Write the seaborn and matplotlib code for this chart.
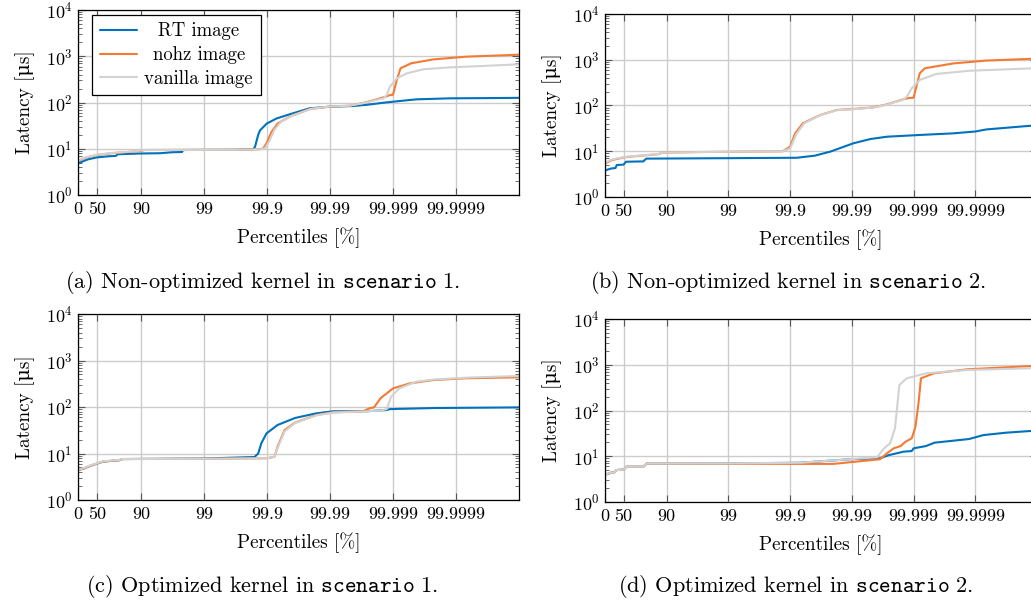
import numpy as np
import pandas as pd
import matplotlib
matplotlib.use("Agg")
import matplotlib.pyplot as plt
import matplotlib.ticker as mticker
import seaborn as sns

# series names and colours
labels = ["RT image", "nohz image", "vanilla image"]
colors = ["#0072BD", "#F47A33", "#D2D2D2"]

pct_ticks = [0, 50, 90, 99, 99.9, 99.99, 99.999, 99.9999]
pct_tick_labels = ["0", "50", "90", "99", "99.9", "99.99", "99.999", "99.9999"]

# (a) Non-optimized kernel, scenario 1
a_rt_pct = [0, 20.6, 30.8, 49.9, 68.4, 74.9, 76.6, 90, 95.0, 96.8, 97.76, 97.86, 99.68, 99.834, 99.845,
            99.862, 99.871, 99.899, 99.929, 99.957, 99.979, 99.99, 99.9957, 99.99737, 99.99859, 99.999,
            99.999573, 99.999874, 99.99999]
a_rt_lat = [4.8, 5.5, 5.9, 6.5, 6.9, 7.0, 7.6, 7.9, 8.0, 8.4, 8.5, 9.4, 9.5, 9.8, 11,
            20, 25, 35, 45, 56, 75, 81, 84, 89, 99, 104, 117, 123, 126]
a_nohz_pct = [0, 20.6, 49.9, 70.5, 87.4, 90, 91.3, 99.68, 99.874, 99.885, 99.898, 99.915, 99.932, 99.957,
              99.979, 99.99, 99.995, 99.99705, 99.99818, 99.99868, 99.99888, 99.999, 99.999129, 99.999241,
              99.999487, 99.999771, 99.999932, 99.99999]
a_nohz_lat = [5.4, 6.3, 7.3, 8.0, 8.7, 9.0, 9.4, 9.5, 9.8, 10.2, 13, 23, 35, 50,
              72, 82, 85, 98, 117, 133, 145, 147, 307, 550, 705, 855, 980, 1080]
a_van_pct = [0, 20.6, 49.9, 70.5, 87.4, 90, 91.3, 99.68, 99.874, 99.893, 99.909, 99.924, 99.940, 99.960,
             99.98, 99.99, 99.995, 99.99705, 99.99818, 99.99859, 99.99874, 99.99888, 99.999129, 99.999397,
             99.999669, 99.999874, 99.999963, 99.99999]
a_van_lat = [5.6, 6.4, 7.4, 8.1, 8.8, 9.2, 9.4, 9.5, 9.7, 10.3, 15, 26, 38, 52,
             73, 82, 85, 97, 114, 123, 145, 219, 333, 427, 523, 575, 617, 670]

# (b) Non-optimized kernel, scenario 2
b_rt_pct = [0, 20.6, 32.4, 35.4, 49.9, 54.3, 76.0, 78.6, 96.8, 99.921, 99.960, 99.9776, 99.9905, 99.995,
            99.9973, 99.999206, 99.999771, 99.9999, 99.999934, 99.999987, 99.99999]
b_rt_lat = [3.8, 4.2, 4.3, 5.0, 5.1, 5.9, 6.0, 6.9, 7.0, 7.2, 8.0, 9.8, 14.9, 18.5,
            20.8, 22.7, 24.6, 27, 30, 36, 36.5]
b_nohz_pct = [0, 22.4, 52.1, 71.2, 86.2, 88.0, 96.8, 99.868, 99.9, 99.917, 99.938, 99.9676, 99.9826,
              99.9907, 99.9955, 99.9973, 99.99855, 99.9988, 99.999, 99.999206, 99.999339, 99.999771,
              99.999934, 99.99999]
b_nohz_lat = [5.4, 6.4, 7.4, 7.9, 8.6, 9.3, 9.6, 10, 12.6, 24.6, 41, 62, 80,
              84, 91, 106, 137, 146, 148, 505, 650, 830, 960, 1060]
b_van_pct = [0, 22.4, 52.1, 71.2, 86.2, 88.0, 96.8, 99.868, 99.9, 99.921, 99.941, 99.968, 99.9826,
             99.9907, 99.9955, 99.9973, 99.99855, 99.99871, 99.99893, 99.999206, 99.999573, 99.999877,
             99.99999]
b_van_lat = [5.6, 6.6, 7.5, 8.0, 8.7, 9.3, 9.6, 10, 11.5, 24, 41, 62, 79,
             83, 90, 104, 135, 155, 237, 363, 490, 575, 655]

# (c) Optimized kernel, scenario 1
c_rt_pct = [0, 20.6, 35.4, 52.1, 60.2, 78.1, 80.5, 99.0, 99.842, 99.862, 99.877, 99.898, 99.932, 99.964,
            99.9834, 99.9911, 99.99737, 99.99874, 99.99888, 99.999771, 99.99999]
c_rt_lat = [4.4, 4.8, 5.4, 6.2, 6.7, 7.2, 7.6, 7.8, 8.4, 10, 16.6, 27, 41, 58,
            73, 81, 81, 86, 90, 95, 98]
c_nohz_pct = [0, 20.6, 35.4, 52.1, 60.2, 78.1, 80.5, 99.0, 99.9, 99.924, 99.932, 99.9475, 99.964, 99.9834,
              99.9911, 99.9970, 99.99766, 99.998, 99.99842, 99.999, 99.999463, 99.999771, 99.999932,
              99.99999]
c_nohz_lat = [4.4, 4.8, 5.4, 6.2, 6.7, 7.2, 7.6, 7.7, 7.9, 8.5, 14, 32, 46, 67,
              77, 81, 94, 98, 154, 251, 323, 380, 415, 435]
c_van_pct = [0, 20.6, 35.4, 52.1, 60.2, 78.1, 80.5, 99.0, 99.9, 99.924, 99.932, 99.9475, 99.964, 99.9834,
             99.9911, 99.9970, 99.99842, 99.99874, 99.99893, 99.999206, 99.999573, 99.999771, 99.999937,
             99.99999]
c_van_lat = [4.5, 4.9, 5.5, 6.3, 6.8, 7.3, 7.6, 7.7, 7.9, 8.5, 13, 30, 45, 66,
             76, 80, 84, 90, 167, 251, 350, 389, 430, 465]

# (d) Optimized kernel, scenario 2
d_rt_pct = [0, 20.6, 27.6, 35.4, 49.9, 55.3, 76.0, 79.1, 99.0, 99.931, 99.9893, 99.9965, 99.99749,
            99.99855, 99.99893, 99.999, 99.999369, 99.999543, 99.999874, 99.999926, 99.999968, 99.999987,
            99.99999]
d_rt_lat = [3.9, 4.4, 4.4, 5.0, 5.1, 5.9, 5.9, 7.0, 7.0, 7.2, 8.6, 9.0, 10.6,
            12.6, 13, 14.9, 16.7, 19.8, 23.8, 29, 32.7, 35.6, 36]
d_nohz_pct = [0, 20.6, 27.6, 35.4, 49.9, 55.3, 76.0, 79.1, 99.0, 99.931, 99.98, 99.9965, 99.9973, 99.9979,
              99.99838, 99.99865, 99.99893, 99.999067, 99.999168, 99.999241, 99.999532, 99.999865, 99.99999]
d_nohz_lat = [3.9, 4.4, 4.4, 5.0, 5.1, 5.9, 5.9, 7.0, 6.9, 6.8, 6.8, 8.6, 11.6, 14.9,
              16.7, 20.8, 24.7, 44, 144, 505, 650, 795, 950]
d_van_pct = [0, 20.6, 27.6, 35.4, 49.9, 55.3, 76.0, 79.1, 99.0, 99.931, 99.9961, 99.9970, 99.9976, 99.998,
             99.99818, 99.9983, 99.99871, 99.999369, 99.999865, 99.99999]
d_van_lat = [3.9, 4.4, 4.4, 5.0, 5.1, 5.9, 5.9, 7.0, 7.0, 7.2, 9.5, 14.9, 19.2, 41,
             144, 362, 505, 650, 768, 845]

captions = [
    r"(a) Non-optimized kernel in $\mathtt{scenario\ 1}$.",
    r"(b) Non-optimized kernel in $\mathtt{scenario\ 2}$.",
    r"(c) Optimized kernel in $\mathtt{scenario\ 1}$.",
    r"(d) Optimized kernel in $\mathtt{scenario\ 2}$.",
]

panels = [
    [(a_rt_pct, a_rt_lat), (a_nohz_pct, a_nohz_lat), (a_van_pct, a_van_lat)],
    [(b_rt_pct, b_rt_lat), (b_nohz_pct, b_nohz_lat), (b_van_pct, b_van_lat)],
    [(c_rt_pct, c_rt_lat), (c_nohz_pct, c_nohz_lat), (c_van_pct, c_van_lat)],
    [(d_rt_pct, d_rt_lat), (d_nohz_pct, d_nohz_lat), (d_van_pct, d_van_lat)],
]

sns.set_style("whitegrid")
plt.rcParams["font.family"] = ["cmr10", "DejaVu Serif"]
plt.rcParams["mathtext.fontset"] = "cm"
plt.rcParams["axes.formatter.use_mathtext"] = True
plt.rcParams["text.color"] = "black"
plt.rcParams["axes.labelcolor"] = "black"
plt.rcParams["xtick.color"] = "black"
plt.rcParams["ytick.color"] = "black"
plt.rcParams["axes.edgecolor"] = "black"
plt.rcParams["axes.linewidth"] = 0.9
plt.rcParams["grid.color"] = "#cccccc"
plt.rcParams["grid.linewidth"] = 1.0

TICK_FS = 13
LABEL_FS = 13.8


def nines(p):
    p = np.asarray(p, dtype=float)
    return -np.log10(np.clip(1 - p / 100.0, 1e-12, None))


def from_nines(x):
    return 100.0 * (1 - 10.0 ** (-np.asarray(x, dtype=float)))


fig = plt.figure(figsize=(10.31, 6.03), dpi=100)
W, H = 1031, 603
# axes boxes in pixels: left, top, right, bottom
boxes = [(78, 10, 519, 195), (605, 14, 1037, 197), (78, 314, 519, 500), (605, 319, 1037, 502)]
caption_pos = [(262, 283), (788, 283), (262, 587), (795, 587)]

for i, (box, series) in enumerate(zip(boxes, panels)):
    l, t, r, b = box
    ax = fig.add_axes([l / W, 1 - b / H, (r - l) / W, (b - t) / H])
    frames = []
    for name, (pct, lat) in zip(labels, series):
        frames.append(pd.DataFrame({"percentile": pct, "latency": lat, "image": name}))
    df = pd.concat(frames, ignore_index=True)
    sns.lineplot(data=df, x="percentile", y="latency", hue="image", hue_order=labels,
                 palette=colors, estimator=None, sort=False, linewidth=1.5, legend=False, ax=ax)

    ax.set_xscale("function", functions=(nines, from_nines))
    ax.set_xlim(0, 99.99999)
    ax.xaxis.set_major_locator(mticker.FixedLocator(pct_ticks))
    ax.xaxis.set_major_formatter(mticker.FixedFormatter(pct_tick_labels))
    ax.xaxis.set_minor_locator(mticker.NullLocator())

    ax.set_yscale("log")
    ax.set_ylim(1, 1e4)
    ax.yaxis.set_major_locator(mticker.LogLocator(base=10, numticks=10))
    ax.yaxis.set_minor_locator(mticker.LogLocator(base=10, subs=np.arange(2, 10), numticks=20))
    ax.yaxis.set_minor_formatter(mticker.NullFormatter())

    ax.grid(True, which="major", color="#cccccc", linewidth=1.0)
    ax.grid(False, which="minor")
    ax.tick_params(which="both", direction="in", top=True, right=True, bottom=True, left=True,
                   labelsize=TICK_FS, color="#555555")
    ax.tick_params(which="major", length=5, width=0.8)
    ax.tick_params(which="minor", length=3, width=0.6)
    ax.tick_params(axis="x", pad=5)
    ax.tick_params(axis="y", pad=4)
    for s in ax.spines.values():
        s.set_color("black")
        s.set_linewidth(0.9)

    ax.set_xlabel("Percentiles [%]", fontsize=LABEL_FS, labelpad=7)
    ax.set_ylabel("Latency [\u03bcs]", fontsize=LABEL_FS, labelpad=8)

    if i == 0:
        leg = ax.legend(handles=ax.get_lines()[:3], labels=labels, loc="upper left",
                        bbox_to_anchor=(14 / 441, 1 - 5 / 185), borderaxespad=0, fontsize=13.5,
                        frameon=True, fancybox=False, framealpha=1, edgecolor="black",
                        handlelength=2.0, handletextpad=0.4, labelspacing=0.3, borderpad=0.4)
        leg.get_frame().set_linewidth(0.9)
        fig.canvas.draw()
        renderer = fig.canvas.get_renderer()
        widths = [t.get_window_extent(renderer).width for t in leg.get_texts()]
        wmax = max(widths)
        # centre the legend entries like the pgfplots legend
        for t, w in zip(leg.get_texts(), widths):
            t.set_position(((wmax - w) / 2, 0))

    cx, cy = caption_pos[i]
    fig.text(cx / W, 1 - cy / H, captions[i], ha="center", va="center", fontsize=16)

fig.savefig("out.png", dpi=100)
